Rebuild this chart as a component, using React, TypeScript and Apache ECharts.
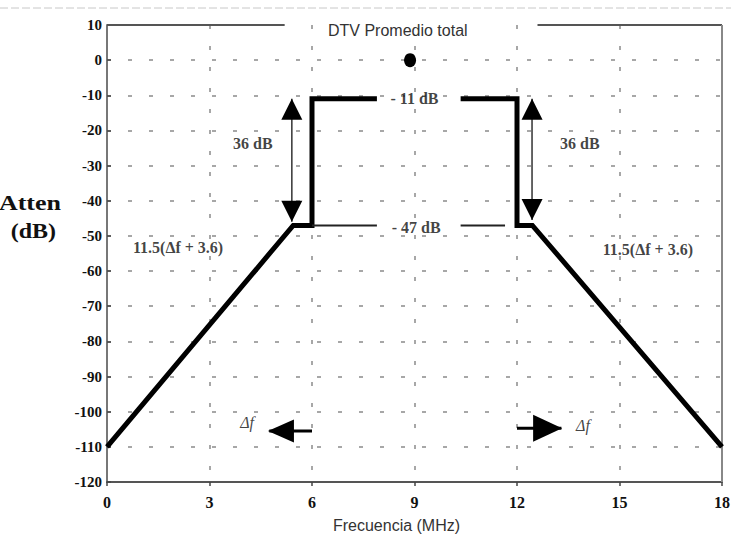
import React, { useEffect, useRef } from 'react';
import * as echarts from 'echarts';

// Axis ticks
const xMin = 0;
const xMax = 18;
const xStep = 3;
const yMin = -120;
const yMax = 10;
const yStep = 10;

// Mask (thick black line), split where the "- 11 dB" label sits
const maskLeft: number[][] = [[0, -110], [5.45, -47], [6, -47], [6, -11], [7.9, -11]];
const maskRight: number[][] = [[10.35, -11], [12, -11], [12, -47], [12.45, -47], [18, -110]];
// -47 dB reference level (thin line)
const level47Left: number[][] = [[6, -47], [7.9, -47]];
const level47Right: number[][] = [[10.35, -47], [11.65, -47]];
// 36 dB double arrows
const span36Left: number[][] = [[5.41, -11], [5.41, -46]];
const span36Right: number[][] = [[12.44, -11], [12.44, -45.5]];
const arrowUpTips: number[][] = [[5.41, -11], [12.44, -11]];
const arrowDownTips: number[][] = [[5.41, -46], [12.44, -45.5]];
// Δf arrows
const deltaLeftShaft: number[][] = [[4.75, -105.5], [6.0, -105.5]];
const deltaRightShaft: number[][] = [[12.0, -104.7], [13.3, -104.7]];
const deltaLeftTip: number[][] = [[4.71, -105.5]];
const deltaRightTip: number[][] = [[13.32, -104.7]];
// DTV average power point
const averagePoint: number[][] = [[8.87, 0]];
// Frame
const frameTopLeft: number[][] = [[0, 10], [5.2, 10]];
const frameTopRight: number[][] = [[12.6, 10], [18, 10]];
const frameRight: number[][] = [[18, 10], [18, -120]];

// Annotations
const levelLabels = [
  { text: '- 11 dB', x: 9.0, y: -11 },
  { text: '- 47 dB', x: 9.05, y: -47.5 },
];
const spanLabels = [
  { text: '36 dB', x: 4.27, y: -23.6 },
  { text: '36 dB', x: 13.84, y: -23.6 },
];
const slopeLabels = [
  { text: '11.5(\u0394f + 3.6)', x: 2.08, y: -53.4 },
  { text: '11.5(\u0394f + 3.6)', x: 15.83, y: -54 },
];
const deltaLabels = [
  { text: '\u0394f', x: 4.1, y: -103 },
  { text: '\u0394f', x: 13.93, y: -103.8 },
];

const titleText = 'DTV Promedio total';
const xName = 'Frecuencia (MHz)';
const yNameLines = ['Atten', '(dB)'];

const SERIF = '"Liberation Serif", "Times New Roman", serif';
const SANS = '"Liberation Sans", Arial, sans-serif';

function lineSeries(name: string, data: number[][], width: number, color = '#000') {
  return {
    name,
    type: 'line',
    data,
    symbol: 'none',
    silent: true,
    lineStyle: { color, width, cap: 'butt', join: 'miter' },
    z: 3,
  };
}

function headSeries(name: string, data: number[][], size: number[], rotate: number, offset: number[]) {
  return {
    name,
    type: 'scatter',
    data,
    symbol: 'triangle',
    symbolSize: size,
    symbolRotate: rotate,
    symbolOffset: offset,
    itemStyle: { color: '#000', opacity: 1 },
    silent: true,
    z: 4,
  };
}

function labelSeries(name: string, items: { text: string; x: number; y: number }[], font: any) {
  return {
    name,
    type: 'scatter',
    symbolSize: 1,
    itemStyle: { color: 'rgba(0,0,0,0)' },
    silent: true,
    z: 5,
    data: items.map((d) => ({
      value: [d.x, d.y],
      label: {
        show: true,
        position: 'inside',
        formatter: d.text,
        color: '#111',
        fontFamily: SERIF,
        ...font,
      },
    })),
  };
}

export default function App() {
  const ref = useRef<HTMLDivElement>(null);
  useEffect(() => {
    if (!ref.current) return;
    const chart = echarts.init(ref.current, undefined, { renderer: 'svg' });
    const option: any = {
      animation: false,
      backgroundColor: '#fff',
      title: {
        text: titleText,
        left: 325,
        top: 21,
        padding: [1, 3],
        backgroundColor: '#fff',
        textStyle: { fontFamily: SANS, fontSize: 16, fontWeight: 'normal', color: '#333' },
        z: 10,
      },
      grid: { left: 107, right: 9, top: 25, bottom: 53, containLabel: false, outerBoundsMode: 'none' },
      xAxis: {
        type: 'value',
        min: xMin,
        max: xMax,
        interval: xStep,
        name: xName,
        nameLocation: 'middle',
        nameGap: 35,
        nameTextStyle: { fontFamily: SANS, fontSize: 16, color: '#333', padding: [0, 36, 0, 0] },
        axisLine: { show: true, onZero: false, lineStyle: { color: '#555', width: 2 } },
        axisTick: { show: true, length: 4, lineStyle: { color: '#444', width: 1.5 } },
        axisLabel: { margin: 12, fontFamily: SERIF, fontWeight: 'bold', fontSize: 16, color: '#111' },
        splitLine: {
          show: true,
          showMinLine: false,
          showMaxLine: false,
          lineStyle: { color: '#8a8a8a', width: 1.5, type: [4, 17] },
        },
      },
      yAxis: {
        type: 'value',
        min: yMin,
        max: yMax,
        interval: yStep,
        axisLine: { show: true, onZero: false, lineStyle: { color: '#777', width: 2 } },
        axisTick: { show: true, inside: true, length: 4, lineStyle: { color: '#444', width: 1.5 } },
        axisLabel: { margin: 5, fontFamily: SERIF, fontWeight: 'bold', fontSize: 15, color: '#111' },
        splitLine: {
          show: true,
          showMinLine: false,
          showMaxLine: false,
          lineStyle: { color: '#8a8a8a', width: 1.5, type: [4, 17] },
        },
      },
      graphic: [
        {
          type: 'line',
          shape: { x1: 0, y1: 8, x2: 731, y2: 8 },
          style: { stroke: '#c8c8c8', lineWidth: 1, lineDash: [8, 3] },
          silent: true,
        },
        {
          type: 'text',
          x: 61,
          y: 203,
          scaleX: 1.3,
          style: {
            text: yNameLines[0],
            align: 'right',
            verticalAlign: 'middle',
            font: `bold 20px ${SERIF}`,
            fill: '#111',
          },
        },
        {
          type: 'text',
          x: 56,
          y: 231,
          scaleX: 1.2,
          style: {
            text: yNameLines[1],
            align: 'right',
            verticalAlign: 'middle',
            font: `bold 20px ${SERIF}`,
            fill: '#111',
          },
        },
      ],
      series: [
        lineSeries('frameTopLeft', frameTopLeft, 2, '#555'),
        lineSeries('frameTopRight', frameTopRight, 2, '#555'),
        lineSeries('frameRight', frameRight, 2, '#888'),
        lineSeries('maskLeft', maskLeft, 5),
        lineSeries('maskRight', maskRight, 5),
        lineSeries('level47Left', level47Left, 2, '#222'),
        lineSeries('level47Right', level47Right, 2, '#222'),
        lineSeries('span36Left', span36Left, 1.5, '#333'),
        lineSeries('span36Right', span36Right, 1.5, '#333'),
        lineSeries('deltaLeftShaft', deltaLeftShaft, 3),
        lineSeries('deltaRightShaft', deltaRightShaft, 3),
        headSeries('arrowUp', arrowUpTips, [21, 21], 0, [0, 10.5]),
        headSeries('arrowDown', arrowDownTips, [21, 21], 180, [0, -10.5]),
        headSeries('deltaLeftHead', deltaLeftTip, [23, 26], 90, [13, 0]),
        headSeries('deltaRightHead', deltaRightTip, [27, 29], -90, [-14.5, 0]),
        {
          name: 'average',
          type: 'scatter',
          data: averagePoint,
          symbol: 'circle',
          symbolSize: [12, 14],
          itemStyle: { color: '#000', opacity: 1 },
          silent: true,
          z: 4,
        },
        labelSeries('levelLabels', levelLabels, { fontSize: 16, fontWeight: 'bold' }),
        labelSeries('spanLabels', spanLabels, { fontSize: 16, fontWeight: 'bold' }),
        labelSeries('slopeLabels', slopeLabels, { fontSize: 16, fontWeight: 'bold' }),
        labelSeries('deltaLabels', deltaLabels, { fontSize: 16, fontStyle: 'italic' }),
      ],
    };
    chart.setOption(option);
    return () => chart.dispose();
  }, []);
  return (
    <div
      ref={ref}
      style={{ position: 'fixed', left: 0, top: 0, width: 731, height: 535, background: '#fff' }}
    />
  );
}
